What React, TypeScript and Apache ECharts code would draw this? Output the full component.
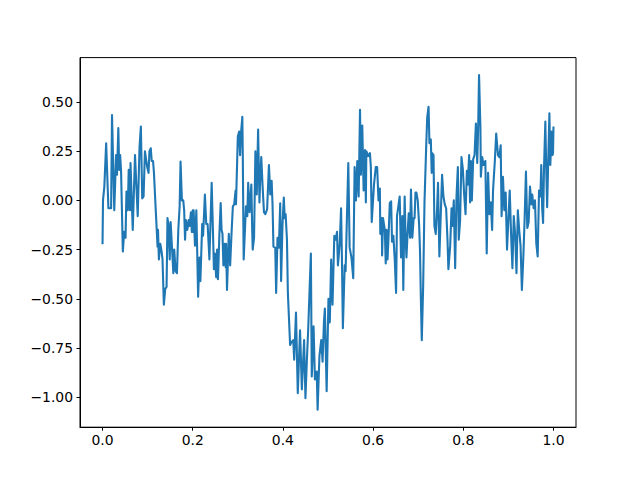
import React, { useEffect, useRef } from "react";
import * as echarts from "echarts";

const xs: number[] = [
  0.000, 0.001, 0.004, 0.008, 0.013, 0.019, 0.021, 0.026, 0.030, 0.032,
  0.035, 0.037, 0.039, 0.041, 0.045, 0.048, 0.051, 0.053, 0.056, 0.058,
  0.061, 0.062, 0.067, 0.072, 0.078, 0.082, 0.085, 0.088, 0.091, 0.094,
  0.099, 0.102, 0.104, 0.107, 0.109, 0.112, 0.114, 0.118, 0.122, 0.123,
  0.125, 0.128, 0.131, 0.133, 0.136, 0.139, 0.142, 0.144, 0.146, 0.149,
  0.151, 0.154, 0.157, 0.159, 0.162, 0.165, 0.168, 0.171, 0.173, 0.176,
  0.179, 0.181, 0.183, 0.185, 0.188, 0.191, 0.193, 0.196, 0.198, 0.200,
  0.201, 0.202, 0.205, 0.208, 0.212, 0.215, 0.217, 0.221, 0.223, 0.227,
  0.230, 0.233, 0.237, 0.242, 0.245, 0.247, 0.249, 0.252, 0.254, 0.256,
  0.259, 0.262, 0.264, 0.266, 0.268, 0.271, 0.273, 0.274, 0.276, 0.280,
  0.283, 0.286, 0.289, 0.292, 0.295, 0.296, 0.300, 0.303, 0.305, 0.307,
  0.310, 0.311, 0.313, 0.316, 0.318, 0.321, 0.323, 0.326, 0.330, 0.332,
  0.333, 0.336, 0.339, 0.342, 0.345, 0.348, 0.350, 0.352, 0.355, 0.358,
  0.361, 0.365, 0.369, 0.372, 0.375, 0.377, 0.379, 0.383, 0.385, 0.388,
  0.391, 0.394, 0.396, 0.399, 0.402, 0.404, 0.406, 0.409, 0.411, 0.416,
  0.419, 0.423, 0.425, 0.429, 0.433, 0.438, 0.442, 0.447, 0.450, 0.453,
  0.456, 0.462, 0.464, 0.468, 0.471, 0.475, 0.477, 0.481, 0.485, 0.488,
  0.491, 0.493, 0.497, 0.501, 0.504, 0.507, 0.510, 0.514, 0.517, 0.520,
  0.522, 0.526, 0.529, 0.531, 0.533, 0.537, 0.539, 0.545, 0.548, 0.552,
  0.556, 0.559, 0.562, 0.565, 0.568, 0.571, 0.573, 0.576, 0.579, 0.582,
  0.584, 0.585, 0.589, 0.593, 0.595, 0.597, 0.602, 0.606, 0.609, 0.612,
  0.615, 0.616, 0.619, 0.620, 0.622, 0.626, 0.628, 0.630, 0.632, 0.634,
  0.637, 0.640, 0.642, 0.645, 0.648, 0.651, 0.653, 0.656, 0.659, 0.662,
  0.665, 0.667, 0.670, 0.672, 0.674, 0.676, 0.679, 0.682, 0.684, 0.687,
  0.690, 0.692, 0.694, 0.696, 0.699, 0.702, 0.704, 0.706, 0.708, 0.711,
  0.714, 0.718, 0.720, 0.723, 0.725, 0.728, 0.730, 0.731, 0.734, 0.736,
  0.739, 0.742, 0.744, 0.747, 0.750, 0.753, 0.756, 0.759, 0.762, 0.765,
  0.767, 0.771, 0.774, 0.776, 0.779, 0.782, 0.785, 0.788, 0.790, 0.793,
  0.796, 0.799, 0.802, 0.805, 0.808, 0.810, 0.813, 0.815, 0.817, 0.819,
  0.822, 0.825, 0.828, 0.831, 0.833, 0.835, 0.838, 0.839, 0.842, 0.845,
  0.849, 0.852, 0.855, 0.858, 0.861, 0.864, 0.866, 0.870, 0.873, 0.877,
  0.880, 0.883, 0.885, 0.888, 0.891, 0.894, 0.897, 0.900, 0.903, 0.906,
  0.909, 0.912, 0.915, 0.918, 0.921, 0.924, 0.927, 0.930, 0.933, 0.936,
  0.939, 0.942, 0.945, 0.948, 0.951, 0.953, 0.956, 0.959, 0.962, 0.965,
  0.968, 0.971, 0.973, 0.975, 0.977, 0.979, 0.982, 0.984, 0.986, 0.988,
  0.991, 0.993, 0.996, 0.998, 0.999, 1.000,
];

const ys: number[] = [
  -0.217, 0.0, 0.07, 0.29, -0.04, -0.04, 0.434, -0.05, 0.23, 0.13,
  0.367, 0.155, 0.23, 0.155, -0.26, -0.16, -0.19, 0.045, -0.05, 0.155,
  -0.05, 0.19, -0.15, 0.23, -0.08, 0.27, 0.375, 0.01, 0.02, 0.25,
  0.17, 0.14, 0.25, 0.265, 0.2, 0.2, 0.14, -0.05, -0.235, -0.15,
  -0.30, -0.22, -0.26, -0.30, -0.53, -0.45, -0.44, -0.09, -0.12, -0.30,
  -0.11, -0.24, -0.37, -0.25, -0.36, -0.37, -0.15, -0.03, 0.197, 0.0,
  0.0, -0.05, -0.2, -0.1, -0.15, -0.1, -0.13, -0.06, -0.16, -0.05,
  -0.16, -0.05, -0.23, -0.05, -0.49, -0.29, -0.41, -0.12, -0.18, 0.03,
  -0.12, -0.12, -0.30, 0.09, -0.17, -0.35, -0.27, -0.39, -0.25, -0.40,
  -0.18, -0.014, -0.15, -0.17, -0.33, -0.22, -0.34, -0.22, -0.455, -0.17,
  -0.33, -0.17, -0.03, -0.02, 0.05, -0.02, 0.325, 0.35, 0.23, 0.34,
  0.425, 0.23, -0.30, -0.14, -0.03, -0.08, 0.09, -0.06, 0.08, -0.16,
  -0.25, -0.19, 0.25, 0.03, 0.36, -0.01, 0.13, 0.22, 0.07, -0.06,
  -0.07, -0.045, 0.18, 0.03, 0.10, -0.02, -0.235, -0.24, -0.47, -0.19,
  -0.24, -0.015, -0.41, -0.13, 0.015, -0.09, -0.07, -0.20, -0.47, -0.735,
  -0.72, -0.71, -0.81, -0.57, -0.98, -0.66, -0.96, -0.71, -1.005, -0.82,
  -0.66, -0.27, -0.895, -0.64, -0.91, -0.87, -1.064, -0.79, -0.71, -0.82,
  -0.62, -0.55, -0.97, -0.50, -0.62, -0.30, -0.53, -0.18, -0.20, -0.16,
  -0.33, -0.22, -0.04, -0.31, -0.65, -0.33, -0.36, 0.19, -0.24, -0.29,
  -0.395, 0.17, 0.0, 0.2, 0.02, 0.46, 0.13, 0.38, 0.05, 0.256,
  -0.01, 0.25, 0.225, 0.24, 0.17, -0.11, 0.08, 0.17, 0.17, 0.0,
  0.06, -0.17, -0.09, -0.28, -0.09, -0.15, -0.32, -0.15, -0.30, -0.2,
  -0.014, -0.005, -0.21, -0.18, -0.30, -0.47, -0.08, -0.03, 0.02, -0.29,
  -0.08, -0.455, 0.02, -0.19, -0.29, -0.19, -0.065, -0.19, 0.055, -0.19,
  -0.09, -0.09, 0.04, 0.04, 0.0, -0.12, -0.25, -0.505, -0.71, -0.44,
  -0.01, 0.29, 0.42, 0.476, 0.29, 0.31, 0.14, 0.24, 0.23, -0.13,
  -0.17, -0.04, 0.09, -0.285, -0.08, 0.13, 0.02, -0.02, -0.04, -0.2,
  -0.35, -0.23, -0.04, -0.13, 0.0, -0.345, 0.02, 0.17, -0.2, -0.1,
  0.22, 0.16, 0.03, -0.07, 0.15, 0.08, 0.23, -0.01, 0.2, 0.0,
  0.21, 0.23, 0.39, 0.19, 0.37, 0.637, 0.37, 0.12, 0.22, 0.18,
  0.2, -0.27, 0.14, -0.07, -0.01, -0.15, 0.05, 0.2, 0.34, 0.23,
  0.22, 0.28, -0.08, 0.12, -0.05, 0.04, -0.25, -0.1, 0.05, -0.17,
  -0.345, -0.08, -0.17, -0.37, -0.05, -0.15, -0.23, -0.455, -0.3, -0.1,
  0.146, -0.14, -0.11, 0.07, -0.02, 0.03, -0.04, 0.0, -0.22, -0.285,
  0.05, 0.02, 0.18, -0.04, -0.115, 0.16, 0.40, 0.16, -0.035, 0.16,
  0.443, 0.18, 0.35, 0.23, 0.24, 0.37,
];

const xTicks: number[] = [0, 0.2, 0.4, 0.6, 0.8, 1.0];
const yTicks: number[] = [-1.0, -0.75, -0.5, -0.25, 0, 0.25, 0.5];

const fmtMinus = (s: string) => s.replace("-", "\u2212");

export default function App() {
  const ref = useRef<HTMLDivElement>(null);
  useEffect(() => {
    document.body.style.margin = "0";
    if (!ref.current) return;
    const chart = echarts.init(ref.current, undefined, { renderer: "svg" });
    const data = xs.map((x, i) => [x, ys[i]]);
    const font = "DejaVu Sans";
    chart.setOption({
      animation: false,
      backgroundColor: "#ffffff",
      grid: {
        left: 80,
        right: 64,
        top: 57.6,
        bottom: 52.8,
        show: true,
        borderColor: "#000000",
        borderWidth: 1,
        backgroundColor: "transparent",
        containLabel: false,
      },
      xAxis: {
        type: "value",
        min: -0.05,
        max: 1.05,
        splitLine: { show: false },
        axisLine: { show: true, onZero: false, lineStyle: { color: "#000", width: 1 } },
        axisTick: {
          show: true,
          length: 3.5,
          inside: false,
          customValues: xTicks,
          lineStyle: { color: "#000", width: 1 },
        },
        axisLabel: {
          show: true,
          customValues: xTicks,
          margin: 6,
          color: "#000",
          fontFamily: font,
          fontSize: 13.9,
          formatter: (v: number) => fmtMinus(v.toFixed(1)),
        },
      },
      yAxis: {
        type: "value",
        min: -1.1524,
        max: 0.7255,
        splitLine: { show: false },
        axisLine: { show: true, onZero: false, lineStyle: { color: "#000", width: 1 } },
        axisTick: {
          show: true,
          length: 3.5,
          inside: false,
          customValues: yTicks,
          lineStyle: { color: "#000", width: 1 },
        },
        axisLabel: {
          show: true,
          customValues: yTicks,
          margin: 7,
          color: "#000",
          fontFamily: font,
          fontSize: 13.9,
          formatter: (v: number) => fmtMinus(v.toFixed(2)),
        },
      },
      series: [
        {
          type: "line",
          data,
          showSymbol: false,
          symbol: "none",
          lineStyle: { color: "#1f77b4", width: 2.1, join: "round", cap: "square" },
          itemStyle: { color: "#1f77b4" },
        },
      ],
    });
    return () => chart.dispose();
  }, []);
  return <div ref={ref} style={{ width: 640, height: 480, position: "absolute", left: 0, top: 0 }} />;
}
